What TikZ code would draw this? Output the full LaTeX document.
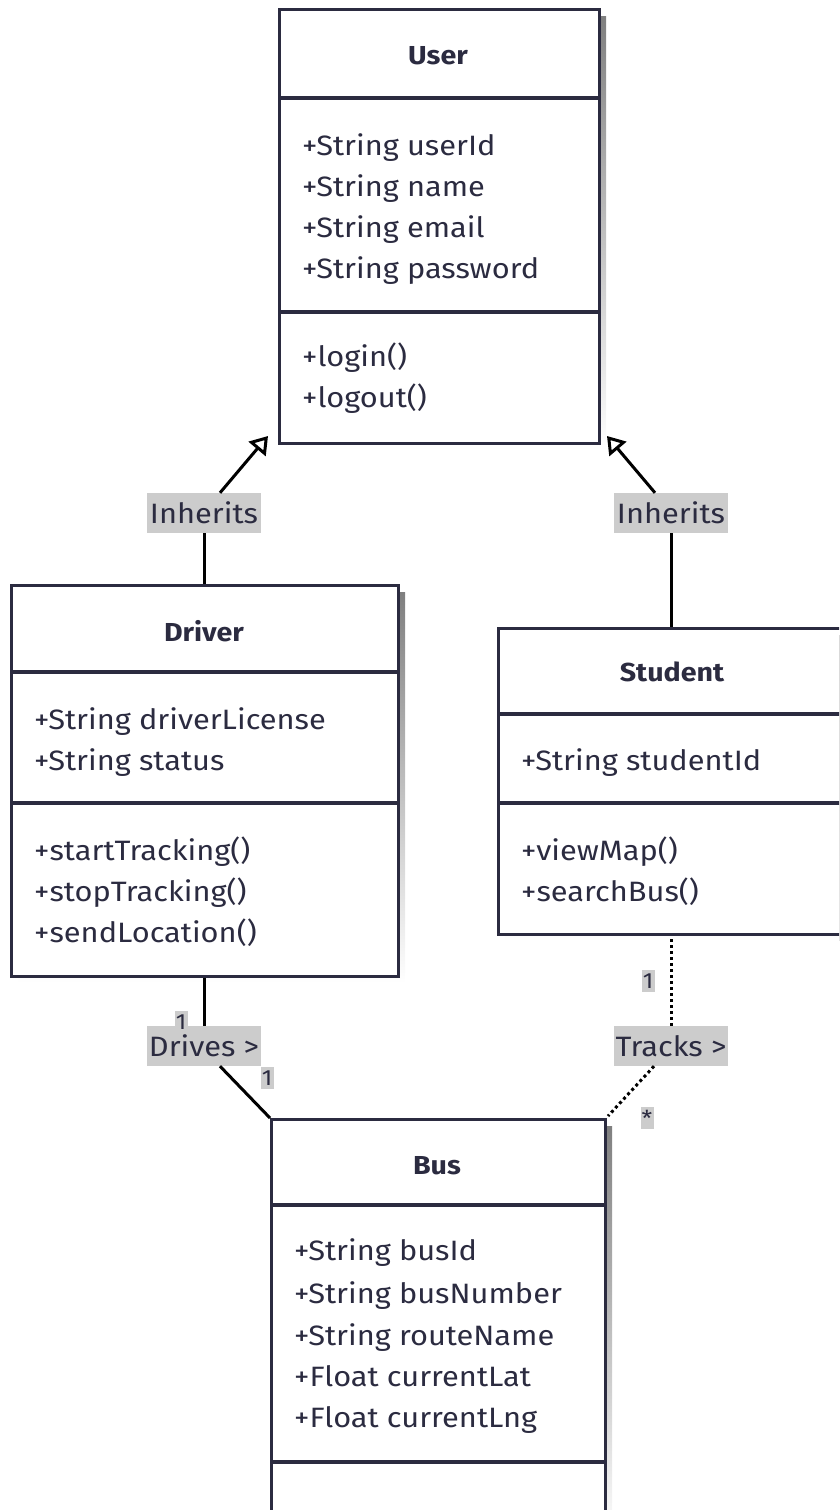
\documentclass[tikz,border=0pt]{standalone}
\usepackage{fontspec}
\setmainfont{Fira Sans}[FakeStretch=1.1]
\usetikzlibrary{arrows.meta}
\definecolor{ink}{HTML}{2B2B40}
\definecolor{shade}{HTML}{F2F2F2}
\definecolor{lblbg}{HTML}{CCCCCC}
\begin{document}
\begin{tikzpicture}[x=1pt,y=-1pt,
  classbox/.style={draw=ink, line width=3.2pt, fill=white, inner sep=0pt, anchor=north west},
  divider/.style={draw=ink, line width=3.2pt},
  attr/.style={anchor=base west, inner sep=0pt, text=ink, font=\fontsize{28}{32}\selectfont},
  title/.style={anchor=base, inner sep=0pt, text=ink, font=\fontsize{26}{30}\selectfont\bfseries},
  lbl/.style={fill=lblbg, text=ink, inner sep=0pt, minimum width=114pt, minimum height=40pt,
              font=\fontsize{28}{32}\selectfont},
  mult/.style={fill=lblbg, text=ink, inner sep=0pt, minimum width=13pt, minimum height=22pt,
               font=\fontsize{22}{24}\selectfont},
  link/.style={draw=black, line width=3pt},
  dotlink/.style={link, dash pattern=on 3pt off 3pt},
  inherit/.style={link, -{Triangle[open, length=17pt, width=22pt, line width=3pt]}},
]
\useasboundingbox (0,0) rectangle (839,1510);
\clip (0,0) rectangle (839,1510);

% drop shadows
\fill[shade] (286,16) rectangle (606,450);
\fill[shade] (18,592) rectangle (405,983);
\fill[shade] (505,635) rectangle (855,941);
\fill[shade] (278,1126) rectangle (612,1540);

% class boxes
\node[classbox, minimum width=320pt, minimum height=434pt] (user) at (278,8) {};
\node[classbox, minimum width=387pt, minimum height=391pt] (driver) at (10,584) {};
\node[classbox, minimum width=350pt, minimum height=306pt] (student) at (497,627) {};
\node[classbox, minimum width=334pt, minimum height=412pt] (bus) at (270,1118) {};

% compartment dividers
\draw[divider] (278,98) -- (598,98);
\draw[divider] (278,312) -- (598,312);
\draw[divider] (10,672) -- (397,672);
\draw[divider] (10,803) -- (397,803);
\draw[divider] (497,714) -- (847,714);
\draw[divider] (497,803) -- (847,803);
\draw[divider] (270,1205) -- (604,1205);
\draw[divider] (270,1462) -- (604,1462);

% User
\node[title] (userT) at (438,64) {User};
\node[attr] (userA1) at (302,155) {+String userId};
\node[attr] (userA2) at (302,196) {+String name};
\node[attr] (userA3) at (302,237) {+String email};
\node[attr] (userA4) at (302,278) {+String password};
\node[attr] (userM1) at (302,366) {+login()};
\node[attr] (userM2) at (302,407) {+logout()};

% Driver
\node[title] (driverT) at (204,641) {Driver};
\node[attr] (driverA1) at (34,729) {+String driverLicense};
\node[attr] (driverA2) at (34,770) {+String status};
\node[attr] (driverM1) at (34,860) {+startTracking()};
\node[attr] (driverM2) at (34,901) {+stopTracking()};
\node[attr] (driverM3) at (34,942) {+sendLocation()};

% Student
\node[title] (studentT) at (672,681) {Student};
\node[attr] (studentA1) at (521,770) {+String studentId};
\node[attr] (studentM1) at (521,860) {+viewMap()};
\node[attr] (studentM2) at (521,901) {+searchBus()};

% Bus
\node[title] (busT) at (437,1174) {Bus};
\node[attr] (busA1) at (294,1260) {+String busId};
\node[attr] (busA2) at (294,1303) {+String busNumber};
\node[attr] (busA3) at (294,1345) {+String routeName};
\node[attr] (busA4) at (294,1386) {+Float currentLat};
\node[attr] (busA5) at (294,1427) {+Float currentLng};

% relation labels
\node[lbl] (inhD) at (204,513) {Inherits};
\node[lbl] (inhS) at (671,513) {Inherits};
\node[lbl] (drives) at (204,1046) {Drives >};
\node[lbl] (tracks) at (671,1046) {Tracks >};

% arrow tips and line ends at the User and Bus boxes
\coordinate (tipD) at (268,436);
\coordinate (tipS) at (607,436);
\coordinate (busL) at (270,1118);
\coordinate (busR) at (608,1116);

% Driver inherits User
\draw[link] (inhD.south) -- (inhD.south |- driver.north);
\draw[inherit] ([xshift=16pt]inhD.north) -- (tipD);

% Student inherits User
\draw[link] (inhS.south) -- (inhS.south |- student.north);
\draw[inherit] ([xshift=-16pt]inhS.north) -- (tipS);

% Driver drives Bus
\draw[link] (drives.north) -- (drives.north |- driver.south);
\draw[link] ([xshift=16pt]drives.south) -- (busL);
\node[mult] (drivesM1) at (181,1022) {1};
\node[mult] (drivesM2) at (267,1078) {1};

% Student tracks Bus
\draw[dotlink] (tracks.north) -- (tracks.north |- student.south);
\draw[dotlink] ([xshift=-17pt]tracks.south) -- (busR);
\node[mult] (tracksM1) at (648,981) {1};
\node[mult] (tracksM2) at (647,1118) {*};
\end{tikzpicture}
\end{document}
